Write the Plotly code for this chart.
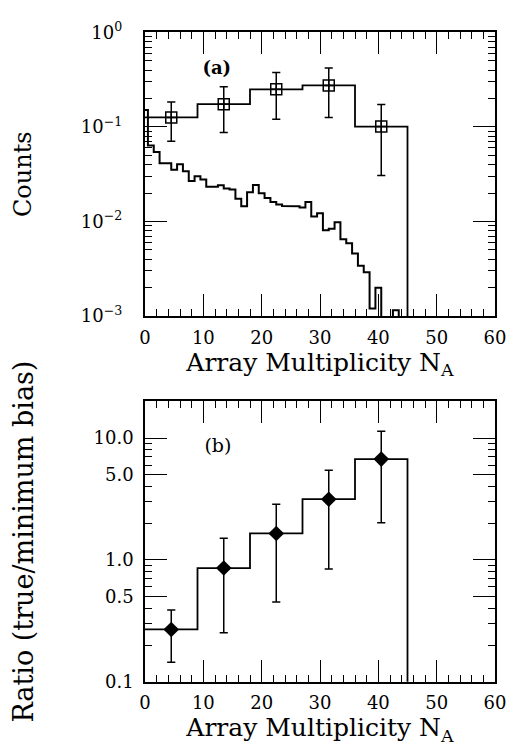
import math
import plotly.graph_objects as go

# ---- data -------------------------------------------------------------
# coarse bins in array multiplicity used for the "true" sample
true_edges = [0, 9, 18, 27, 36, 45]
true_centers = [4.5, 13.5, 22.5, 31.5, 40.5]
true_counts = [0.126, 0.174, 0.250, 0.275, 0.101]
true_err_hi = [0.184, 0.267, 0.377, 0.420, 0.173]
true_err_lo = [0.0705, 0.0873, 0.121, 0.126, 0.0306]

# minimum-bias distribution, unit bins centred on N_A = 0..44
mb_na = list(range(45))
mb_counts = [0.151, 0.0637, 0.0544, 0.0413, 0.0413, 0.0353, 0.0404, 0.0340, 0.0268, 0.0302,
             0.0279, 0.0233, 0.0233, 0.0242, 0.0224, 0.0218, 0.0174, 0.0145, 0.0204, 0.0244,
             0.0199, 0.0177, 0.0161, 0.0151, 0.0146, 0.0146, 0.0145, 0.0141, 0.0161, 0.0113,
             0.0122, 0.0081, 0.0084, 0.0098, 0.0065, 0.0059, 0.0046, 0.0034, 0.0029, 0.0012,
             0.0020, 0.0, 0.0, 0.00115, 0.0]

# ratio true / minimum bias in the coarse bins
ratio = [0.269, 0.858, 1.65, 3.15, 6.72]
ratio_hi = [0.388, 1.51, 2.86, 5.45, 11.4]
ratio_lo = [0.145, 0.253, 0.452, 0.842, 2.02]

x_ticks = [0, 10, 20, 30, 40, 50, 60]
counts_ticks = [1e-3, 1e-2, 1e-1, 1.0]
counts_ticktext = ["10<sup>\u22123</sup>", "10<sup>\u22122</sup>", "10<sup>\u22121</sup>", "10<sup>0</sup>"]
ratio_ticks = [0.1, 0.5, 1.0, 5.0, 10.0]
ratio_ticktext = ["0.1", "0.5", "1.0", "5.0", "10.0"]

# ---- page geometry ----------------------------------------------------
W, H = 509, 749
ML, MR = 145, 14
FONT = "DejaVu Serif"
NB = "\u00a0"
CAP = 0.7          # half width of error-bar caps, in N_A units
FLOOR = 1e-5       # empty bins are drawn below the visible range


def px_y(y):
    return (H - y) / H


def lg(values):
    # vertical scales are logarithmic: work in decades on a linear axis
    return [math.log10(v if v > 0 else FLOOR) for v in values]


def unit_steps(centres, vals):
    xs, ys = [], []
    for c, v in zip(centres, vals):
        xs += [max(c - 0.5, 0), c + 0.5]
        ys += [v, v]
    return xs, ys


def bin_steps(edges, vals):
    xs, ys = [], []
    for i, v in enumerate(vals):
        xs += [edges[i], edges[i + 1]]
        ys += [v, v]
    xs.append(edges[-1])
    ys.append(FLOOR)
    return xs, ys


def error_segments(centres, lo, hi):
    xs, ys = [], []
    for c, l, h in zip(centres, lo, hi):
        xs += [c, c, None, c - CAP, c + CAP, None, c - CAP, c + CAP, None]
        ys += [l, h, None, h, h, None, l, l, None]
    return xs, ys


def log_minor(lo_exp, hi_exp, skip=()):
    return [math.log10(m * 10.0 ** e) for e in range(lo_exp, hi_exp + 1)
            for m in range(2, 10) if m not in skip]


def lines(x, y, xa, ya, width):
    return go.Scatter(x=x, y=y, mode="lines", line=dict(color="black", width=width),
                      xaxis=xa, yaxis=ya, showlegend=False, connectgaps=False)


def lg_keep_none(values):
    return [None if v is None else math.log10(v) for v in values]


fig = go.Figure()

# top panel: minimum-bias histogram
mx, my = unit_steps(mb_na, mb_counts)
fig.add_trace(lines(mx, lg(my), "x", "y", 2))

# top panel: true histogram with statistical errors
tx, ty = bin_steps(true_edges, true_counts)
fig.add_trace(lines(tx, lg(ty), "x", "y", 1.8))
ex, ey = error_segments(true_centers, true_err_lo, true_err_hi)
fig.add_trace(lines(ex, lg_keep_none(ey), "x", "y", 1.5))
fig.add_trace(go.Scatter(
    x=true_centers, y=lg(true_counts), mode="markers", xaxis="x", yaxis="y",
    marker=dict(symbol="square-cross-open", size=11, color="black", line=dict(width=1.5, color="black")),
    showlegend=False))

# bottom panel: ratio
rx, ry = bin_steps(true_edges, ratio)
fig.add_trace(lines(rx, lg(ry), "x2", "y2", 1.8))
ex2, ey2 = error_segments(true_centers, ratio_lo, ratio_hi)
fig.add_trace(lines(ex2, lg_keep_none(ey2), "x2", "y2", 1.5))
fig.add_trace(go.Scatter(
    x=true_centers, y=lg(ratio), mode="markers", xaxis="x2", yaxis="y2",
    marker=dict(symbol="diamond", size=12, color="black"), showlegend=False))

# panel tags
fig.add_trace(go.Scatter(x=[12.3], y=[-0.39], mode="text", text=["<b>(a)</b>"],
                         textfont=dict(family=FONT, size=18, color="black"),
                         xaxis="x", yaxis="y", showlegend=False))
fig.add_trace(go.Scatter(x=[12.5], y=[0.925], mode="text", text=["(b)"],
                         textfont=dict(family=FONT, size=19, color="black"),
                         xaxis="x2", yaxis="y2", showlegend=False))

tick_font = dict(family=FONT, size=18, color="black")
minor_style = dict(ticks="inside", ticklen=7, tickwidth=1.3, tickcolor="black")
frame = dict(ticks="inside", ticklen=22, tickwidth=1.3, tickcolor="black",
             showline=True, linewidth=2, linecolor="black", mirror="allticks",
             showgrid=False, zeroline=False, tickfont=tick_font)
x_title = dict(text="Array Multiplicity N<sub>A</sub>", font=dict(family=FONT, size=25, color="black"),
               standoff=6)
common_x = dict(frame, range=[0, 60], tickvals=x_ticks, minor=dict(minor_style, dtick=2),
                ticklabelstandoff=4, title=x_title)

top_dom = [px_y(312.7), px_y(20)]
bot_dom = [px_y(690), px_y(400.7)]
top_range = [-3, 0]
bot_range = [-1, math.log10(20)]
bot_minor = [v for v in log_minor(-1, 1, skip=(5,)) if v < bot_range[1]]

fig.update_layout(
    width=W, height=H,
    margin=dict(l=ML, r=MR, t=0, b=0),
    paper_bgcolor="white", plot_bgcolor="white", showlegend=False,
    xaxis=dict(common_x, domain=[0, 1], anchor="y"),
    yaxis=dict(frame, domain=top_dom, anchor="x", range=top_range,
               tickvals=lg(counts_ticks), ticktext=[t + NB * 3 for t in counts_ticktext],
               minor=dict(minor_style, tickvals=log_minor(-3, -1)),
               title=dict(text="Counts", font=dict(family=FONT, size=24, color="black"), standoff=42)),
    xaxis2=dict(common_x, domain=[0, 1], anchor="y2"),
    yaxis2=dict(frame, domain=bot_dom, anchor="x2", range=bot_range,
                tickvals=lg(ratio_ticks), ticktext=[t + NB for t in ratio_ticktext],
                minor=dict(minor_style, tickvals=bot_minor),
                title=dict(text="Ratio (true/minimum bias)", font=dict(family=FONT, size=27, color="black"),
                           standoff=52)),
)

fig.write_html("out.html")
